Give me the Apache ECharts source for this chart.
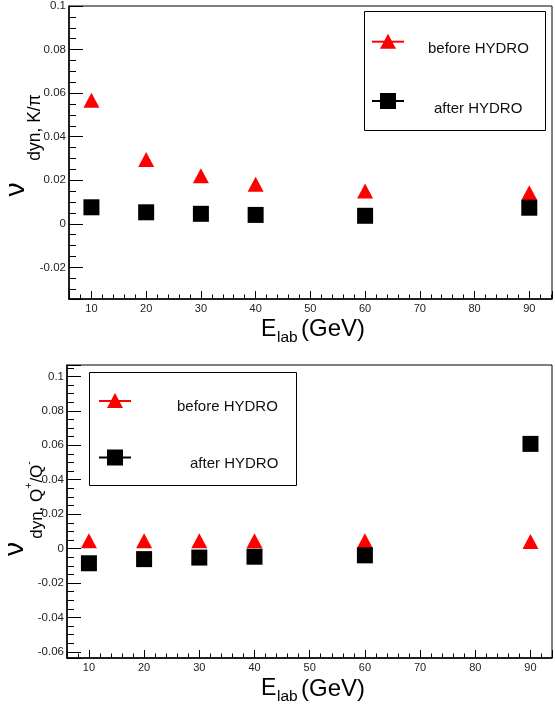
<!DOCTYPE html>
<html><head><meta charset="utf-8">
<script src="https://cdn.jsdelivr.net/npm/echarts@6/dist/echarts.min.js"></script>
<style>html,body{margin:0;padding:0;background:#fff}#c{width:555px;height:704px}</style>
</head><body><div id="c"></div>
<script>
// ---- data ----
const energies = [10, 20, 30, 40, 60, 90];
const kpiBefore = [0.0567, 0.0295, 0.0221, 0.0182, 0.0151, 0.0143];
const kpiAfter  = [0.0076, 0.0053, 0.0046, 0.0041, 0.0037, 0.0074];
const qBefore   = [0.0045, 0.0045, 0.0046, 0.0046, 0.0046, 0.0042];
const qAfter    = [-0.0085, -0.0061, -0.0052, -0.0047, -0.0039, 0.0608];
const seriesNames = ['before HYDRO', 'after HYDRO'];
const xTicksMajor = 10, xTicksMinor = 2, yTicksMajor = 0.02, yTicksMinor = 0.005;

const FONT = '"Liberation Sans", Arial, Helvetica, sans-serif';
const chart = echarts.init(document.getElementById('c'), null, {renderer: 'canvas'});

function isMult(v, step) { const r = v / step; return Math.abs(r - Math.round(r)) < 1e-6; }
function fmt(v) { return String(parseFloat(v.toFixed(4))); }

function axesFor(gi, xr, yr) {
  const xs = [
    { gridIndex: gi, type: 'value', position: 'bottom', min: xr[0], max: xr[1],
      minInterval: xTicksMajor, maxInterval: xTicksMajor, splitNumber: 9,
      axisLine: {show: true, onZero: false, lineStyle: {color: '#000', width: 1.5}},
      axisTick: {show: true, inside: true, length: 8, lineStyle: {color: '#000', width: 1}},
      axisLabel: {show: true, margin: 4, fontSize: 11, color: '#222', fontFamily: FONT,
        formatter: v => isMult(v, xTicksMajor) ? fmt(v) : ''},
      splitLine: {show: false} },
    { gridIndex: gi, type: 'value', position: 'bottom', min: xr[0], max: xr[1],
      minInterval: xTicksMinor, maxInterval: xTicksMinor, splitNumber: 44,
      axisLine: {show: false, onZero: false},
      axisTick: {show: true, inside: true, length: 4.5, lineStyle: {color: '#000', width: 1}},
      axisLabel: {show: false}, splitLine: {show: false} }
  ];
  const ys = [
    { gridIndex: gi, type: 'value', position: 'left', min: yr[0], max: yr[1],
      minInterval: yTicksMajor, maxInterval: yTicksMajor, splitNumber: 7,
      axisLine: {show: true, onZero: false, lineStyle: {color: '#000', width: 1.5}},
      axisTick: {show: true, inside: true, length: 14, lineStyle: {color: '#000', width: 1}},
      axisLabel: {show: true, margin: 3, fontSize: 11.5, color: '#222', fontFamily: FONT,
        formatter: v => isMult(v, yTicksMajor) ? fmt(v) : ''},
      splitLine: {show: false} },
    { gridIndex: gi, type: 'value', position: 'left', min: yr[0], max: yr[1],
      minInterval: yTicksMinor, maxInterval: yTicksMinor, splitNumber: 27,
      axisLine: {show: false, onZero: false},
      axisTick: {show: true, inside: true, length: 7, lineStyle: {color: '#000', width: 1}},
      axisLabel: {show: false}, splitLine: {show: false} }
  ];
  return {xs, ys};
}

const topAxes = axesFor(0, [5.9, 94.15], [-0.0345, 0.1]);
const botAxes = axesFor(1, [6.03, 93.9], [-0.0635, 0.1066]);

function pts(vals) { return energies.map((e, i) => [e, vals[i]]); }

function scatter(name, vals, xi, yi, isTri) {
  return {
    name, type: 'scatter', xAxisIndex: xi, yAxisIndex: yi, data: pts(vals),
    symbol: isTri ? 'triangle' : 'rect', symbolSize: isTri ? [16, 15] : [16, 16],
    itemStyle: {color: isTri ? '#ff0000' : '#000000', opacity: 1},
    z: isTri ? 2 : 3, silent: true
  };
}

function legendBox(x, y, w, h, mx, y1, y2, t1x, t1y, t2x, t2y) {
  return [
    {type: 'rect', shape: {x, y, width: w, height: h}, style: {fill: '#fff', stroke: '#000', lineWidth: 1}, z: 10},
    {type: 'line', shape: {x1: mx - 16, y1: y1, x2: mx + 16, y2: y1}, style: {stroke: '#ff0000', lineWidth: 2}, z: 11},
    {type: 'polygon', shape: {points: [[mx - 8, y1 + 7], [mx + 8, y1 + 7], [mx, y1 - 8]]}, style: {fill: '#ff0000'}, z: 12},
    {type: 'line', shape: {x1: mx - 16, y1: y2, x2: mx + 16, y2: y2}, style: {stroke: '#000', lineWidth: 2}, z: 11},
    {type: 'rect', shape: {x: mx - 8, y: y2 - 8, width: 16, height: 16}, style: {fill: '#000'}, z: 12},
    {type: 'text', x: t1x, y: t1y, style: {text: seriesNames[0], fontSize: 15, fontFamily: FONT, fill: '#111', align: 'left', verticalAlign: 'middle'}, z: 12},
    {type: 'text', x: t2x, y: t2y, style: {text: seriesNames[1], fontSize: 15, fontFamily: FONT, fill: '#111', align: 'left', verticalAlign: 'middle'}, z: 12}
  ];
}

function xTitle(yc) {
  return [
    {type: 'text', x: 261, y: yc, style: {text: 'E', fontSize: 23, fontFamily: FONT, fill: '#000', align: 'left', verticalAlign: 'middle'}},
    {type: 'text', x: 277, y: yc + 8, style: {text: 'lab', fontSize: 15.5, fontFamily: FONT, fill: '#000', align: 'left', verticalAlign: 'middle'}},
    {type: 'text', x: 301, y: yc, style: {text: '(GeV)', fontSize: 24, fontFamily: FONT, fill: '#000', align: 'left', verticalAlign: 'middle'}}
  ];
}

function yTitle(nuX, nuY, subX, subY, rich, text) {
  return [
    {type: 'text', x: nuX, y: nuY, rotation: Math.PI / 2, style: {text: 'ν', fontSize: 28, fontFamily: FONT, fill: '#000', align: 'center', verticalAlign: 'middle'}},
    {type: 'text', x: subX, y: subY, rotation: Math.PI / 2, style: {text, rich, fontSize: 17.5, fontFamily: FONT, fill: '#000', align: 'center', verticalAlign: 'middle'}}
  ];
}

const subRich = {
  s: {fontSize: 17, fontFamily: FONT, fill: '#000', lineHeight: 22, verticalAlign: 'bottom'},
  p: {fontSize: 10.5, fontFamily: FONT, fill: '#000', lineHeight: 22, verticalAlign: 'top'}
};

const option = {
  animation: false,
  backgroundColor: '#fff',
  grid: [
    {left: 69, top: 6, width: 489, height: 293, show: true, borderColor: '#000', borderWidth: 1, backgroundColor: 'transparent', containLabel: false},
    {left: 67, top: 365, width: 487, height: 293, show: true, borderColor: '#000', borderWidth: 1, backgroundColor: 'transparent', containLabel: false}
  ],
  xAxis: [...topAxes.xs, ...botAxes.xs],
  yAxis: [...topAxes.ys, ...botAxes.ys],
  series: [
    scatter(seriesNames[0], kpiBefore, 0, 0, true),
    scatter(seriesNames[1], kpiAfter, 0, 0, false),
    scatter(seriesNames[0], qBefore, 2, 2, true),
    scatter(seriesNames[1], qAfter, 2, 2, false)
  ],
  graphic: [
    ...legendBox(364.5, 11.5, 181, 119, 388, 41.7, 101, 428, 49, 434, 109),
    ...legendBox(89.5, 372.5, 207, 113, 115, 401, 457.5, 177, 407, 190, 464),
    ...xTitle(329.5),
    ...xTitle(689),
    ...yTitle(16, 189.5, 35, 127.5, null, 'dyn, K/π'),
    ...yTitle(15, 549, 35, 500, subRich, '{s|dyn, Q}{p|+}{s|/Q}{p|-}')
  ]
};
chart.setOption(option);
</script></body></html>
